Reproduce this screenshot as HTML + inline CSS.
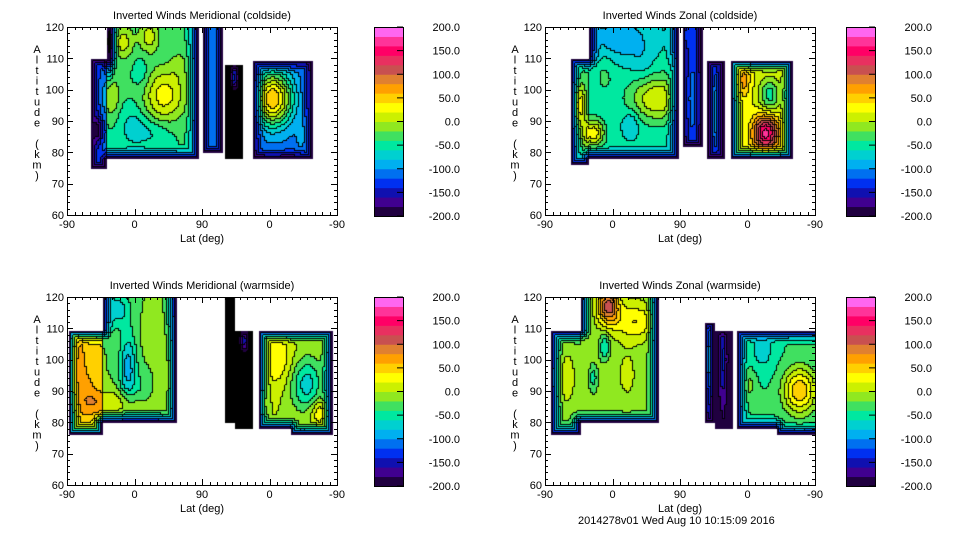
<!DOCTYPE html>
<html><head><meta charset="utf-8">
<style>
html,body{margin:0;padding:0;background:#fff;}
#root{position:relative;width:960px;height:540px;overflow:hidden;background:#fff;font-family:"Liberation Sans",sans-serif;font-size:11px;color:#000;}
canvas{position:absolute;}
svg{position:absolute;left:0;top:0;}
</style></head>
<body>
<div id="root">
<svg id="svg" width="960" height="540"></svg>
</div>
<script>
// ---------- data ----------
const xTickLabels = ["-90","0","90","0","-90"];
const xTickPos = [0,90,180,270,360];
const yTicks = [60,70,80,90,100,110,120];
const cbLevels = [200,150,100,50,0,-50,-100,-150,-200];
const cbColors = ['#200040','#400090','#1010b0','#0030f0','#0070f0','#00b0f0','#00d0d0','#00e8a0','#40e060','#90e820','#ccf000','#ffff00','#ffd000','#ffa000','#e08030','#c85050','#e83060','#ff0066','#ff3399','#ff66f0'];
const panelTitles = ["Inverted Winds Meridional (coldside)","Inverted Winds Zonal (coldside)","Inverted Winds Meridional (warmside)","Inverted Winds Zonal (warmside)"];
// regions per panel: u0,u1,alt0,alt1,group,base
const p1RegU0=[33,53,181,212,247], p1RegU1=[53,177,208,236,328], p1RegA0=[75,78,80,78,78], p1RegA1=[110,120,120,108,109], p1RegG=[0,0,1,2,3], p1Base=[-110,-40,-90,-240,-110];
const p2RegU0=[36,60,184,215,249], p2RegU1=[60,180,211,239,331], p2RegA0=[76,78,82,78,78], p2RegA1=[110,120,120,109,109], p2RegG=[0,0,1,2,3], p2Base=[-40,-55,-110,-130,20];
const p3RegU0=[4,47,212,225,255,300], p3RegU1=[47,148,224,248,300,355], p3RegA0=[76,80,80,78,78,76], p3RegA1=[109,120,120,109,109,109], p3RegG=[0,0,1,2,3,3], p3Base=[40,-20,-240,-240,0,0];
const p4RegU0=[7,47,213,228,257,310], p4RegU1=[47,151,227,251,310,360], p4RegA0=[76,80,80,78,78,76], p4RegA1=[109,120,112,109,109,109], p4RegG=[0,0,1,2,3,3], p4Base=[-20,-10,-120,-180,-40,-40];
// blobs: u, alt, amplitude, sigmaU, sigmaAlt
const p1BlobU=[130,75,110,90,40,275,322,224,57,150,100,60,120], p1BlobA=[98,115,117,88,87,97,85,104,115,108,105,98,86], p1BlobAmp=[70,50,50,-30,-80,170,40,120,-200,20,-20,40,-20], p1BlobSU=[20,10,10,15,6,18,8,4,4,10,8,8,15], p1BlobSA=[6,4,4,5,3,6,4,3,6,4,4,5,3];
const p2BlobU=[45,65,150,115,100,175,186,227,262,300,295,80,130], p2BlobA=[95,86,97,89,116,105,117,93,103,98,86,105,108], p2BlobAmp=[110,90,75,-30,-40,60,70,70,60,-70,150,20,-15], p2BlobSU=[6,10,25,8,30,5,3,3,8,10,12,10,10], p2BlobSA=[5,3,5,3,5,5,3,8,4,4,4,5,4];
const p3BlobU=[10,30,82,140,68,60,237,280,320,340,262,115,100], p3BlobA=[97,90,97,95,116,86,106,100,92,83,86,108,90], p3BlobAmp=[80,20,-70,40,-50,40,100,40,-70,50,60,15,-20], p3BlobSU=[8,8,8,10,12,30,5,15,15,10,4,10,8], p3BlobSA=[8,6,8,8,4,3,3,6,6,3,3,5,4];
const p4BlobU=[30,85,120,80,65,237,340,290,270,218,110], p4BlobA=[94,117,112,104,94,100,90,103,92,100,95], p4BlobAmp=[40,120,50,-50,-40,60,100,-30,30,120,15], p4BlobSU=[8,10,20,5,4,4,15,12,8,3,10], p4BlobSA=[6,4,4,3,3,8,5,5,4,8,6];

const panels=[
 {left:67,top:27,cbx:374,ru0:p1RegU0,ru1:p1RegU1,ra0:p1RegA0,ra1:p1RegA1,rg:p1RegG,rb:p1Base,bu:p1BlobU,ba:p1BlobA,bm:p1BlobAmp,bsu:p1BlobSU,bsa:p1BlobSA},
 {left:545,top:27,cbx:846,ru0:p2RegU0,ru1:p2RegU1,ra0:p2RegA0,ra1:p2RegA1,rg:p2RegG,rb:p2Base,bu:p2BlobU,ba:p2BlobA,bm:p2BlobAmp,bsu:p2BlobSU,bsa:p2BlobSA},
 {left:67,top:297,cbx:374,ru0:p3RegU0,ru1:p3RegU1,ra0:p3RegA0,ra1:p3RegA1,rg:p3RegG,rb:p3Base,bu:p3BlobU,ba:p3BlobA,bm:p3BlobAmp,bsu:p3BlobSU,bsa:p3BlobSA},
 {left:545,top:297,cbx:846,ru0:p4RegU0,ru1:p4RegU1,ra0:p4RegA0,ra1:p4RegA1,rg:p4RegG,rb:p4Base,bu:p4BlobU,ba:p4BlobA,bm:p4BlobAmp,bsu:p4BlobSU,bsa:p4BlobSA}
];
const PW=270, PH=188;
const svg=document.getElementById('svg');
const root=document.getElementById('root');
const NS='http://www.w3.org/2000/svg';
function mk(tag,attrs){const e=document.createElementNS(NS,tag);for(const k in attrs)e.setAttribute(k,attrs[k]);svg.appendChild(e);return e;}
function xs(p,u){return p.left+u*PW/360;}
function ys(p,a){return p.top+(120-a)*PH/60;}
function colorFor(v){if(v<-200)return '#000';let i=Math.floor((v+200)/20);if(i>19)i=19;return cbColors[i];}

panels.forEach((p,pi)=>{
  const cs=2, nx=PW/cs, ny=PH/cs;
  const cv=document.createElement('canvas');
  cv.width=PW;cv.height=PH;cv.style.left=p.left+'px';cv.style.top=p.top+'px';
  
  
  root.insertBefore(cv,svg);
  const ctx=cv.getContext('2d');
  const grp=new Int32Array(nx*ny).fill(-1), base=new Float32Array(nx*ny);
  for(let j=0;j<ny;j++)for(let i=0;i<nx;i++){
    const u=(i+0.5)*cs*360/PW, a=120-(j+0.5)*cs*60/PH;
    for(let r=0;r<p.ru0.length;r++){
      if(u>=p.ru0[r]&&u<p.ru1[r]&&a>=p.ra0[r]&&a<=p.ra1[r]){grp[j*nx+i]=p.rg[r];base[j*nx+i]=p.rb[r];break;}
    }
  }
  const dist=new Float32Array(nx*ny);
  for(let k=0;k<nx*ny;k++)dist[k]=grp[k]<0?0:1e9;
  const nb1=[[-1,0,1],[0,-1,1],[-1,-1,1.41],[1,-1,1.41]];
  const nb2=[[1,0,1],[0,1,1],[1,1,1.41],[-1,1,1.41]];
  function pass(nb,fw){
    for(let jj=0;jj<ny;jj++){const j=fw?jj:ny-1-jj;
      for(let ii=0;ii<nx;ii++){const i=fw?ii:nx-1-ii;const k=j*nx+i;if(grp[k]<0)continue;
        for(const n of nb){const x=i+n[0],y=j+n[1];if(x<0||y<0||x>=nx||y>=ny)continue;
          const kk=y*nx+x;const c=(grp[kk]===grp[k]?dist[kk]:0)+n[2];if(c<dist[k])dist[k]=c;}}}
  }
  pass(nb1,true);pass(nb2,false);pass(nb1,true);pass(nb2,false);
  const lev=new Int32Array(nx*ny).fill(-99);
  for(let j=0;j<ny;j++)for(let i=0;i<nx;i++){
    const k=j*nx+i;if(grp[k]<0)continue;
    const u=(i+0.5)*cs*360/PW, a=120-(j+0.5)*cs*60/PH;
    let v=base[k];
    for(let b=0;b<p.bu.length;b++){const du=(u-p.bu[b])/p.bsu[b],da=(a-p.ba[b])/p.bsa[b];v+=p.bm[b]*Math.exp(-0.5*(du*du+da*da));}
    let s=Math.min(1,dist[k]*cs/16);
    s=s*(2-s);
    v=-200+(v+200)*s;
    if(dist[k]*cs<2.5)v=Math.min(v,-185);
    lev[k]=v<-200?-1:Math.min(19,Math.floor((v+200)/20));
    ctx.fillStyle=colorFor(v);ctx.fillRect(i*cs,j*cs,cs,cs);
  }
  ctx.fillStyle='#000';
  for(let j=0;j<ny;j++)for(let i=0;i<nx;i++){
    const k=j*nx+i;if(lev[k]===-99)continue;
    if(i+1<nx&&lev[k+1]!==-99&&lev[k+1]!==lev[k])ctx.fillRect(i*cs+cs-1,j*cs,1,cs);
    if(j+1<ny&&lev[k+nx]!==-99&&lev[k+nx]!==lev[k])ctx.fillRect(i*cs,j*cs+cs-1,cs,1);
  }
  let e=mk('rect',{x:p.left+0.5,y:p.top+0.5,width:PW,height:PH,fill:'none',stroke:'#000','stroke-width':1});
  
  
  e=mk('text',{x:p.left+PW/2,y:p.top-8,'text-anchor':'middle','font-size':11,'font-family':'Liberation Sans, sans-serif'});
  e.textContent=panelTitles[pi];
  
  
  let d='';
  for(let u=0;u<=360;u+=10){const x=Math.round(xs(p,u))+0.5;const L=(u%90===0)?6:3;d+=`M${x},${p.top+PH}v${-L}M${x},${p.top}v${L}`;}
  for(let a=60;a<=120;a+=2){const y=Math.round(ys(p,a))+0.5;const L=(a%10===0)?6:3;d+=`M${p.left},${y}h${L}M${p.left+PW},${y}h${-L}`;}
  e=mk('path',{d:d,stroke:'#000','stroke-width':1,fill:'none'});
  
  
  xTickPos.forEach((u,ti)=>{
    const t=mk('text',{x:xs(p,u),y:p.top+PH+13,'text-anchor':'middle','font-size':11});
    t.textContent=xTickLabels[ti];
    
    
  });
  yTicks.forEach(a=>{
    const t=mk('text',{x:p.left-3,y:ys(p,a)+4,'text-anchor':'end','font-size':11});
    t.textContent=String(a);
    
    
  });
  e=mk('text',{x:p.left+PW/2,y:p.top+PH+27,'text-anchor':'middle','font-size':11});
  e.textContent='Lat (deg)';
  
  
  const yl='Altitude (km)';
  const g=mk('text',{'font-size':11,'text-anchor':'middle'});
  
  
  for(let c=0;c<yl.length;c++){const ts=document.createElementNS(NS,'tspan');ts.setAttribute('x',p.left-30);ts.setAttribute('y',p.top+26+c*10.5);ts.textContent=yl[c];g.appendChild(ts);}
  const cbTop=p.top, cbH=189, bw=29;
  for(let b=0;b<20;b++){
    const r=mk('rect',{x:p.cbx,y:cbTop+cbH-(b+1)*cbH/20,width:bw,height:cbH/20+0.5,fill:cbColors[b]});
    
    
  }
  e=mk('rect',{x:p.cbx+0.5,y:cbTop+0.5,width:bw,height:cbH,fill:'none',stroke:'#000'});
  
  
  cbLevels.forEach((lv,li)=>{
    const y=cbTop+cbH*(200-lv)/400;
    const tk=mk('line',{x1:p.cbx+bw-6,x2:p.cbx+bw,y1:y,y2:y,stroke:'#000'});
    
    
    const t=mk('text',{x:p.cbx+86,y:Math.min(Math.max(y+4,cbTop+3),cbTop+cbH+4),'text-anchor':'end','font-size':11});
    t.textContent=lv.toFixed(1);
    
    
  });
});
const ft=mk('text',{x:578,y:524,'font-size':11});
ft.textContent='2014278v01 Wed Aug 10 10:15:09 2016';


</script>
</body></html>
